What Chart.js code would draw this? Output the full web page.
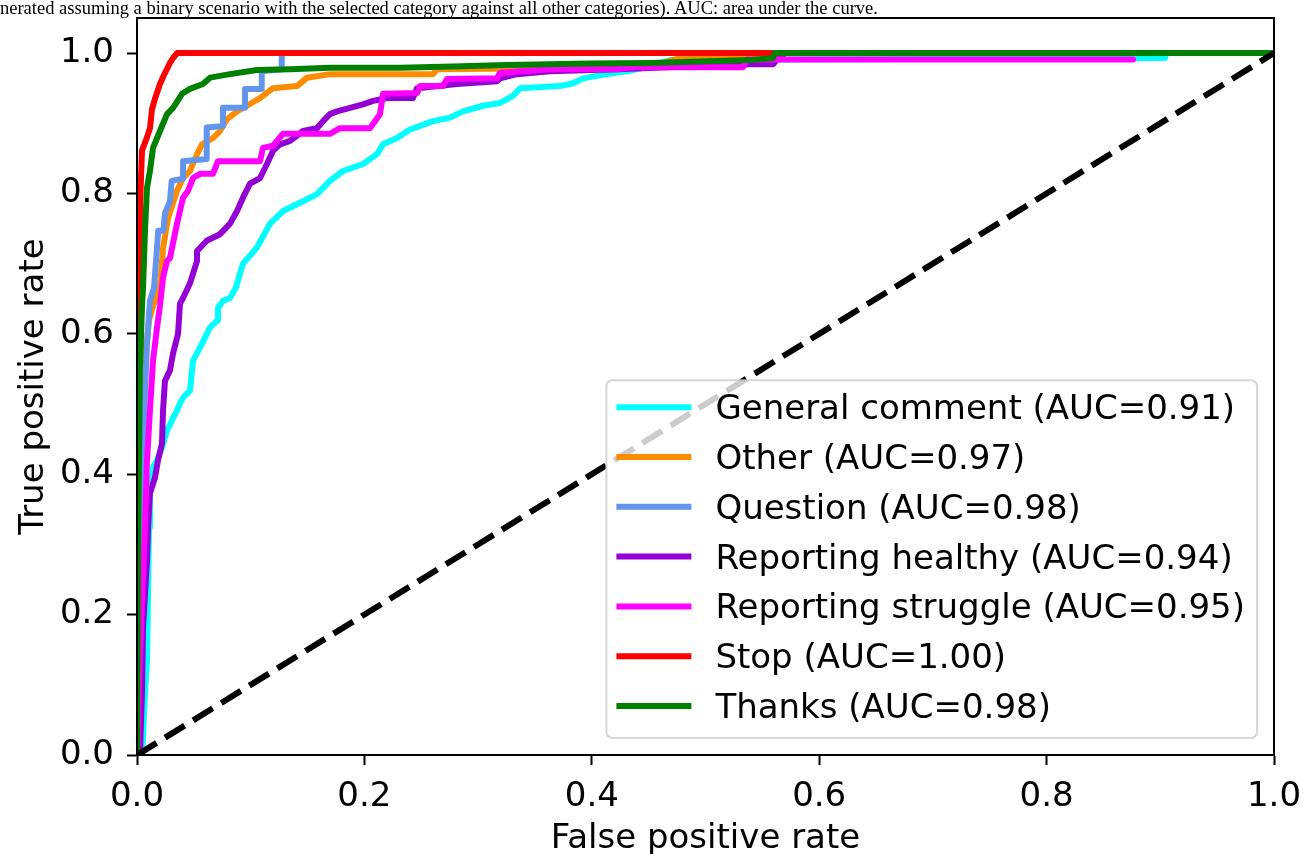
<!DOCTYPE html>
<html>
<head>
<meta charset="utf-8">
<script src="https://cdn.jsdelivr.net/npm/chart.js@4.4.1/dist/chart.umd.min.js"></script>
<style>
  html, body { margin: 0; padding: 0; background: #fff; overflow: hidden; width: 1303px; height: 854px; }
  #caption { position: absolute; left: 0; top: -1px; font-family: "Liberation Serif", "Times New Roman", serif; font-size: 18.5px; line-height: 19px; white-space: nowrap; color: #000; }
  #wrap { position: absolute; left: 0; top: 0; }
</style>
</head>
<body>
<div id="wrap"><canvas id="c" width="1303" height="870" style="width:1303px;height:870px"></canvas></div>
<div id="caption">nerated assuming a binary scenario with the selected category against all other categories). AUC: area under the curve.</div>
<script>
// ---- data ----
const xTicks = [0, 0.2, 0.4, 0.6, 0.8, 1.0];
const yTicks = [0, 0.2, 0.4, 0.6, 0.8, 1.0];

const seriesNames = ["General comment", "Other", "Question", "Reporting healthy", "Reporting struggle", "Stop", "Thanks"];
const aucValues = ["0.91", "0.97", "0.98", "0.94", "0.95", "1.00", "0.98"];
const seriesColors = ["#00ffff", "#ff8c00", "#6495ed", "#9400d3", "#ff00ff", "#ff0000", "#008000"];

const generalFpr = [0, 0.0044, 0.0053, 0.0070, 0.0088, 0.0097, 0.0106, 0.0114, 0.0132, 0.0141, 0.0176, 0.0220, 0.0264, 0.0308, 0.0352, 0.0378, 0.0405, 0.0466, 0.0484, 0.0493, 0.0572, 0.0642, 0.0704, 0.0712, 0.0756, 0.0818, 0.0870, 0.0932, 0.1055, 0.1170, 0.1284, 0.1460, 0.1583, 0.1697, 0.1812, 0.1988, 0.2111, 0.2164, 0.2287, 0.2400, 0.2603, 0.2753, 0.2867, 0.3043, 0.3193, 0.3307, 0.3369, 0.3720, 0.3835, 0.3923, 0.4134, 0.4310, 0.4510, 0.4688, 0.9040, 0.9050, 1.0];
const generalTpr = [0, 0.003, 0.026, 0.088, 0.135, 0.230, 0.324, 0.373, 0.395, 0.410, 0.420, 0.438, 0.462, 0.477, 0.491, 0.501, 0.509, 0.519, 0.548, 0.562, 0.586, 0.609, 0.619, 0.637, 0.647, 0.651, 0.666, 0.700, 0.723, 0.757, 0.775, 0.789, 0.799, 0.818, 0.832, 0.842, 0.856, 0.870, 0.879, 0.891, 0.903, 0.908, 0.917, 0.925, 0.929, 0.939, 0.950, 0.953, 0.957, 0.964, 0.970, 0.974, 0.981, 0.990, 0.993, 1.0, 1.0];

const otherFpr = [0, 0.0026, 0.0035, 0.0044, 0.0053, 0.0088, 0.0106, 0.0141, 0.0202, 0.0229, 0.0273, 0.0352, 0.0405, 0.0466, 0.0528, 0.0572, 0.0668, 0.0730, 0.0792, 0.0880, 0.0967, 0.1082, 0.1196, 0.1407, 0.1495, 0.1697, 0.2603, 0.2639, 0.4500, 0.4800, 0.5594, 0.5610, 1.0];
const otherTpr = [0, 0.15, 0.40, 0.50, 0.57, 0.59, 0.62, 0.64, 0.666, 0.722, 0.765, 0.804, 0.822, 0.832, 0.856, 0.870, 0.879, 0.889, 0.906, 0.917, 0.925, 0.936, 0.950, 0.953, 0.965, 0.970, 0.970, 0.977, 0.980, 0.994, 0.994, 1.0, 1.0];

const questionFpr = [0, 0.0026, 0.0053, 0.0088, 0.0114, 0.0150, 0.0187, 0.0232, 0.0246, 0.0290, 0.0305, 0.0405, 0.0405, 0.0613, 0.0613, 0.0756, 0.0756, 0.0950, 0.0950, 0.1097, 0.1097, 0.1273, 0.1273, 1.0];
const questionTpr = [0, 0.25, 0.45, 0.586, 0.647, 0.666, 0.747, 0.747, 0.772, 0.789, 0.818, 0.821, 0.846, 0.849, 0.894, 0.896, 0.922, 0.922, 0.949, 0.949, 0.974, 0.977, 1.0, 1.0];

const healthyFpr = [0, 0.0026, 0.0044, 0.0053, 0.0088, 0.0097, 0.0114, 0.0158, 0.0185, 0.0220, 0.0229, 0.0246, 0.0290, 0.0317, 0.0361, 0.0378, 0.0405, 0.0466, 0.0528, 0.0528, 0.0616, 0.0730, 0.0818, 0.0880, 0.0932, 0.0994, 0.1082, 0.1143, 0.1196, 0.1258, 0.1346, 0.1460, 0.1583, 0.1636, 0.1697, 0.1759, 0.1988, 0.2076, 0.2199, 0.2427, 0.2463, 0.2814, 0.3166, 0.3193, 0.3342, 0.3632, 0.4222, 0.5330, 0.5594, 0.5629, 0.5700, 1.0];
const healthyTpr = [0, 0.003, 0.090, 0.182, 0.277, 0.324, 0.373, 0.395, 0.420, 0.444, 0.491, 0.533, 0.548, 0.572, 0.600, 0.643, 0.651, 0.672, 0.704, 0.718, 0.733, 0.742, 0.757, 0.775, 0.794, 0.814, 0.822, 0.842, 0.861, 0.870, 0.875, 0.889, 0.893, 0.903, 0.913, 0.917, 0.927, 0.932, 0.936, 0.936, 0.950, 0.956, 0.960, 0.964, 0.970, 0.974, 0.977, 0.984, 0.984, 0.991, 1.0, 1.0];

const struggleFpr = [0, 0.0026, 0.0070, 0.0088, 0.0114, 0.0141, 0.0176, 0.0202, 0.0229, 0.0264, 0.0290, 0.0352, 0.0405, 0.0449, 0.0493, 0.0554, 0.0668, 0.0712, 0.1082, 0.1108, 0.1196, 0.1231, 0.1284, 0.1697, 0.1785, 0.2049, 0.2137, 0.2164, 0.2463, 0.2489, 0.2691, 0.2726, 0.3166, 0.3193, 0.3632, 0.4222, 0.4362, 0.5330, 0.5365, 0.8760];
const struggleTpr = [0, 0.15, 0.324, 0.420, 0.491, 0.562, 0.609, 0.640, 0.680, 0.704, 0.708, 0.757, 0.794, 0.804, 0.822, 0.828, 0.828, 0.846, 0.846, 0.865, 0.868, 0.875, 0.885, 0.885, 0.893, 0.893, 0.913, 0.942, 0.943, 0.953, 0.953, 0.963, 0.964, 0.972, 0.977, 0.977, 0.980, 0.980, 0.991, 0.991];

const stopFpr = [0, 0.0009, 0.0018, 0.0026, 0.0044, 0.0088, 0.0114, 0.0132, 0.0158, 0.0202, 0.0229, 0.0290, 0.0317, 0.0352, 1.0];
const stopTpr = [0, 0.60, 0.72, 0.78, 0.861, 0.880, 0.893, 0.920, 0.935, 0.956, 0.966, 0.986, 0.993, 1.0, 1.0];

const thanksFpr = [0, 0.0009, 0.0026, 0.0044, 0.0053, 0.0070, 0.0088, 0.0114, 0.0141, 0.0202, 0.0264, 0.0317, 0.0396, 0.0466, 0.0580, 0.0642, 0.0818, 0.1055, 0.1346, 0.1697, 0.2313, 0.2780, 0.3250, 0.3980, 0.4510, 0.5390, 0.5594, 0.5610, 1.0];
const thanksTpr = [0, 0.30, 0.55, 0.64, 0.666, 0.747, 0.808, 0.832, 0.865, 0.889, 0.913, 0.922, 0.942, 0.949, 0.956, 0.965, 0.970, 0.976, 0.977, 0.979, 0.979, 0.981, 0.983, 0.985, 0.986, 0.990, 0.993, 1.0, 1.0];

const chanceFpr = [0, 1];
const chanceTpr = [0, 1];

const allFpr = [generalFpr, otherFpr, questionFpr, healthyFpr, struggleFpr, stopFpr, thanksFpr];
const allTpr = [generalTpr, otherTpr, questionTpr, healthyTpr, struggleTpr, stopTpr, thanksTpr];

// ---- build chart ----
const FONT = "'DejaVu Sans', Verdana, sans-serif";
const zip = (xs, ys) => xs.map((x, i) => ({ x: x, y: ys[i] }));

const datasets = seriesNames.map((name, i) => ({
  label: name + " (AUC=" + aucValues[i] + ")",
  data: zip(allFpr[i], allTpr[i]),
  borderColor: seriesColors[i],
  backgroundColor: seriesColors[i],
  borderWidth: 6,
  pointRadius: 0,
  tension: 0,
  fill: false,
  borderJoinStyle: 'round',
  borderCapStyle: 'round',
  order: seriesNames.length - i
}));
datasets.push({
  label: "chance",
  data: zip(chanceFpr, chanceTpr),
  borderColor: "#000",
  borderWidth: 6,
  borderDash: [23, 10],
  borderCapStyle: 'butt',
  pointRadius: 0,
  fill: false,
  order: -1,
  isChance: true
});

const framePlugin = {
  id: 'frame',
  afterDatasetsDraw(chart) {
    const { ctx, chartArea: a } = chart;
    ctx.save();
    ctx.strokeStyle = '#000';
    ctx.lineWidth = 2;
    ctx.strokeRect(a.left, a.top, a.right - a.left, a.bottom - a.top);
    ctx.restore();
  }
};

const legendPlugin = {
  id: 'mplLegend',
  afterDraw(chart) {
    const { ctx, chartArea: a } = chart;
    const items = chart.data.datasets.filter(d => !d.isChance);
    ctx.save();
    ctx.font = "34px " + FONT;
    let maxW = 0;
    items.forEach(d => { maxW = Math.max(maxW, ctx.measureText(d.label).width); });
    const rowH = 49.8;
    const right = a.right - 17;
    const bottom = a.bottom - 17;
    const boxH = 27 + rowH * (items.length - 1) + 32;
    const boxW = 10 + 75 + 24 + maxW + 12;
    const left = right - boxW;
    const top = bottom - boxH;
    const r = 6;
    ctx.beginPath();
    ctx.moveTo(left + r, top);
    ctx.lineTo(right - r, top);
    ctx.arcTo(right, top, right, top + r, r);
    ctx.lineTo(right, bottom - r);
    ctx.arcTo(right, bottom, right - r, bottom, r);
    ctx.lineTo(left + r, bottom);
    ctx.arcTo(left, bottom, left, bottom - r, r);
    ctx.lineTo(left, top + r);
    ctx.arcTo(left, top, left + r, top, r);
    ctx.closePath();
    ctx.fillStyle = 'rgba(255,255,255,0.8)';
    ctx.fill();
    ctx.strokeStyle = 'rgba(204,204,204,0.8)';
    ctx.lineWidth = 2;
    ctx.stroke();
    items.forEach((d, i) => {
      const cy = top + 27 + i * rowH;
      ctx.beginPath();
      ctx.moveTo(left + 10, cy);
      ctx.lineTo(left + 85, cy);
      ctx.strokeStyle = d.borderColor;
      ctx.lineWidth = 6;
      ctx.lineCap = 'butt';
      ctx.stroke();
      ctx.fillStyle = '#000';
      ctx.textBaseline = 'alphabetic';
      ctx.textAlign = 'left';
      ctx.fillText(d.label, left + 109, cy + 12);
    });
    ctx.restore();
  }
};

const tickFont = { family: FONT, size: 34 };

new Chart(document.getElementById('c'), {
  type: 'line',
  data: { datasets: datasets },
  plugins: [framePlugin, legendPlugin],
  options: {
    responsive: false,
    animation: false,
    events: [],
    layout: { padding: { top: 18, right: 29, left: 0, bottom: 0 } },
    plugins: { legend: { display: false }, tooltip: { enabled: false } },
    scales: {
      x: {
        type: 'linear',
        min: 0, max: 1,
        afterBuildTicks: s => { s.ticks = xTicks.map(v => ({ value: v })); },
        afterFit: s => { s.height = 115; s.paddingLeft = 0; s.paddingRight = 0; },
        ticks: { callback: v => Number(v).toFixed(1), font: tickFont, color: '#000', padding: 12, maxRotation: 0, autoSkip: false },
        grid: { display: true, drawOnChartArea: false, drawTicks: true, tickLength: 10, tickWidth: 2, tickColor: '#000' },
        border: { display: true, color: '#000', width: 2 },
        title: { display: true, text: 'False positive rate', font: { family: FONT, size: 34 }, color: '#000', padding: { top: 0, bottom: 10 } }
      },
      y: {
        type: 'linear',
        min: 0, max: 1.05,
        afterBuildTicks: s => { s.ticks = yTicks.map(v => ({ value: v })); },
        afterFit: s => { s.width = 137; s.paddingTop = 0; s.paddingBottom = 0; },
        ticks: { callback: v => Number(v).toFixed(1), font: tickFont, color: '#000', padding: 13, autoSkip: false },
        grid: { display: true, drawOnChartArea: false, drawTicks: true, tickLength: 10, tickWidth: 2, tickColor: '#000' },
        border: { display: true, color: '#000', width: 2 },
        title: { display: true, text: 'True positive rate', font: { family: FONT, size: 34 }, color: '#000', padding: { top: 14, bottom: 0 } }
      }
    }
  }
});
</script>
</body>
</html>
